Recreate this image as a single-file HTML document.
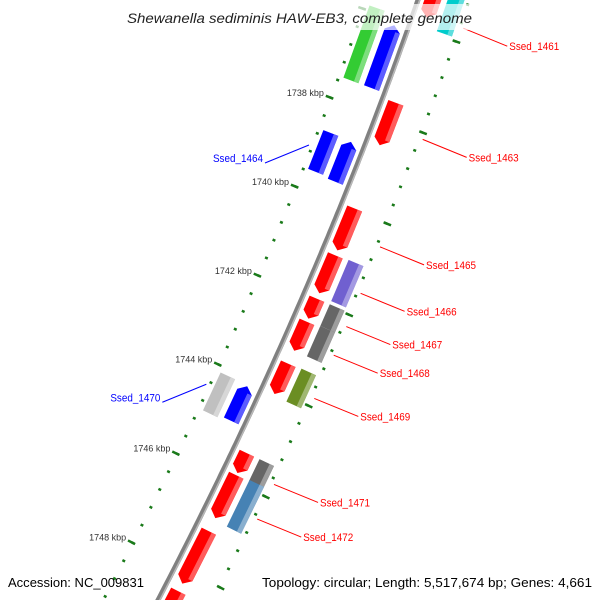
<!DOCTYPE html>
<html><head><meta charset="utf-8"><style>
html,body{margin:0;padding:0;background:#fff;overflow:hidden}
svg{display:block;font-family:"Liberation Sans",sans-serif}
</style></head><body>
<svg id="map" width="600" height="600" viewBox="0 0 600 600">
<g id="ticks"></g>
<g id="backbone"></g>
<g id="genes"></g>
<g id="labels"></g>
<rect x="120" y="4" width="360" height="26" fill="rgba(255,255,255,0.7)"/>
<text x="127" y="23" font-size="14" font-style="italic" fill="#222" textLength="345" lengthAdjust="spacingAndGlyphs">Shewanella sediminis HAW-EB3, complete genome</text>
<rect x="0" y="570" width="600" height="30" fill="rgba(255,255,255,0)"/>
<text x="8" y="587" font-size="13" fill="#000" textLength="136" lengthAdjust="spacingAndGlyphs">Accession: NC_009831</text>
<text x="262" y="587" font-size="13" fill="#000" textLength="330" lengthAdjust="spacingAndGlyphs">Topology: circular; Length: 5,517,674 bp; Genes: 4,661</text>
</svg>
<script>
// gene data (kbp)
const geneStart = [1735.22,1735.04,1735.89,1736.11,1737.62,1738.69,1738.71,1739.96,1741.0,1740.98,1741.96,1741.96,1742.47,1742.44,1743.4,1743.38,1744.13,1744.16,1745.38,1745.38,1745.87,1745.84,1747.11,1748.44,1748.56];
const geneEnd   = [1735.73,1735.93,1737.51,1737.51,1738.56,1739.56,1739.6,1740.89,1741.84,1741.89,1742.4,1742.44,1743.11,1743.11,1744.07,1744.11,1744.98,1744.93,1745.82,1745.87,1746.82,1746.87,1748.27,1749.22,1749.22];
const geneTrack = ["ri","ro","lo","li","ri","lo","li","ri","ri","ro","ri","ro","ri","ro","ri","ro","lo","li","ri","ro","ri","ro","ri","ri","ro"];
const geneColor = ["#ff0000","#00cccc","#33cc33","#0000ff","#ff0000","#0000ff","#0000ff","#ff0000","#ff0000","#7060d0","#ff0000","#666666","#ff0000","#666666","#ff0000","#6b8e23","#c0c0c0","#0000ff","#ff0000","#666666","#ff0000","#4682b4","#ff0000","#ff0000","#00cccc"];
const geneArrow = [1,0,0,1,1,0,1,1,1,0,1,0,1,0,1,0,0,1,1,0,1,0,1,1,0];
const majorTicks = [1736,1738,1740,1742,1744,1746,1748];
const tickLabels = ["1736 kbp","1738 kbp","1740 kbp","1742 kbp","1744 kbp","1746 kbp","1748 kbp"];
const labelNames = ["Ssed_1461","Ssed_1463","Ssed_1464","Ssed_1465","Ssed_1466","Ssed_1467","Ssed_1468","Ssed_1469","Ssed_1470","Ssed_1471","Ssed_1472"];
const labelKbp = [1735.69,1738.13,1739.09,1740.49,1741.51,1742.24,1742.87,1743.82,1744.47,1745.71,1746.47];
const labelSide = ["r","r","l","r","r","r","r","r","l","r","r"];

const NS="http://www.w3.org/2000/svg";
const A=0.3458,B=0.0001458;
function sOf(k){return 115+(k-1738)*45;}
function pt(k,d){const s=sOf(k);const X=418-A*s-B*s*s;const m=A+2*B*s;const n=Math.sqrt(1+m*m);return [X+d/n,s+d*m/n];}
function P(a){return a.map(p=>p[0].toFixed(1)+","+p[1].toFixed(1)).join(" ");}
function mk(tag,attrs,parent){const e=document.createElementNS(NS,tag);for(const k in attrs)e.setAttribute(k,attrs[k]);parent.appendChild(e);return e;}
function lighten(c,f){const r=parseInt(c.substr(1,2),16),g=parseInt(c.substr(3,2),16),b=parseInt(c.substr(5,2),16);const L=v=>Math.round(v+(255-v)*f);return "rgb("+L(r)+","+L(g)+","+L(b)+")";}

// backbone
const bb=document.getElementById("backbone");
let pts=[],pts2=[];
for(let k=1734.5;k<=1750.5;k+=0.1){pts.push(pt(k,0));pts2.push(pt(k,1.6));}
const bl=mk("polyline",{points:P(pts),fill:"none",stroke:"#808080","stroke-width":5},bb);


const bh=mk("polyline",{points:P(pts2),fill:"none",stroke:"#b8b8b8","stroke-width":1.5},bb);



// ticks
const tg=document.getElementById("ticks");
for(let i=0;i<=40;i++){
  const k=1734.8+i*0.4;
  for(const sg of [-1,1]){
    const a=pt(k,sg*47),b=pt(k,sg*50);
    const t=mk("line",{x1:a[0],y1:a[1],x2:b[0],y2:b[1],stroke:"#1a7a1a","stroke-width":2.5},tg);
    
    
  }
}
majorTicks.forEach((k,i)=>{
  for(const sg of [-1,1]){
    const a=pt(k,sg*46),b=pt(k,sg*54);
    const t=mk("line",{x1:a[0],y1:a[1],x2:b[0],y2:b[1],stroke:"#1a7a1a","stroke-width":2.5},tg);
    
    
  }
  const p=pt(k,-56);
  if(p[1]<20) return;
  const tx=mk("text",{x:p[0],y:p[1]+1,"font-size":9,fill:"#333","text-anchor":"end"},tg);
  tx.textContent=tickLabels[i];
  
  
});

// genes
const gg=document.getElementById("genes");
const trackD={li:[-6,-22],lo:[-28,-44],ri:[6,22],ro:[28,44]};
geneStart.forEach((k1,i)=>{
  const k2=geneEnd[i];const tr=geneTrack[i];const [d1,d2]=trackD[tr];
  const fwd=tr[0]==="r";const arrow=geneArrow[i];const tip=0.13;
  const dm=(d1+d2)/2;
  let full;
  if(!arrow) full=[pt(k1,d1),pt(k2,d1),pt(k2,d2),pt(k1,d2)];
  else if(fwd) full=[pt(k1,d1),pt(k2-tip,d1),pt(k2,dm),pt(k2-tip,d2),pt(k1,d2)];
  else full=[pt(k2,d1),pt(k1+tip,d1),pt(k1,dm),pt(k1+tip,d2),pt(k2,d2)];
  const g=mk("polygon",{points:P(full),fill:geneColor[i]},gg);
  
  
  const hi = tr[0]==="r" ? [0.7,1] : [0,0.3];
  const da=d1+(d2-d1)*hi[0],db=d1+(d2-d1)*hi[1];
  const e2=k2-(arrow&&fwd?tip:0), s1=k1+(arrow&&!fwd?tip:0);
  const hs=mk("polygon",{points:P([pt(s1,da),pt(e2,da),pt(e2,db),pt(s1,db)]),fill:lighten(geneColor[i],0.4),opacity:0.9},gg);
  
  
});

// labels
const lg=document.getElementById("labels");
labelNames.forEach((nm,i)=>{
  const k=labelKbp[i];const r=labelSide[i]==="r";
  const a=pt(k,r?52:-52);const b=[a[0]+(r?44:-44),a[1]+18];
  const col=r?"#ff0000":"#0000ff";
  const l=mk("line",{x1:a[0],y1:a[1],x2:b[0],y2:b[1],stroke:col,"stroke-width":1},lg);
  
  
  const t=mk("text",{x:r?b[0]+2:b[0]-2,y:r?b[1]+4:b[1]-1,"font-size":11,fill:col,"text-anchor":r?"start":"end",textLength:50,lengthAdjust:"spacingAndGlyphs"},lg);
  t.textContent=nm;
  
  
});
</script>
</body></html>
